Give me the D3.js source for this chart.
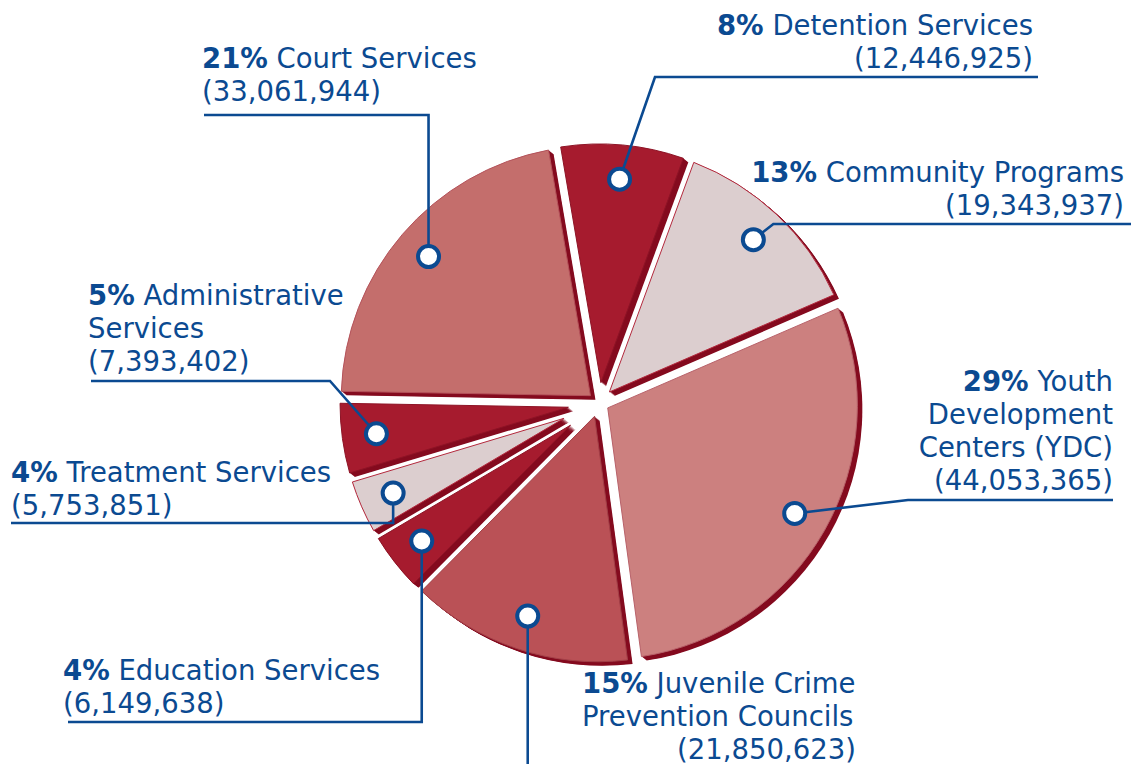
<!DOCTYPE html>
<html>
<head>
<meta charset="utf-8">
<script src="https://cdn.jsdelivr.net/npm/d3@7"></script>
<style>
html,body{margin:0;padding:0;background:#fff;}
svg{display:block;}
</style>
</head>
<body>
<svg id="chart" width="1131" height="764"></svg>
<script>
// ---------------- data ----------------
const categories = [
  "Court Services",
  "Detention Services",
  "Community Programs",
  "Youth Development Centers (YDC)",
  "Juvenile Crime Prevention Councils",
  "Education Services",
  "Treatment Services",
  "Administrative Services"
];
const amounts = [33061944, 12446925, 19343937, 44053365, 21850623, 6149638, 5753851, 7393402];
const percentLabels = ["21%", "8%", "13%", "29%", "15%", "4%", "4%", "5%"];
const nameLines = [
  ["Court Services"],
  ["Detention Services"],
  ["Community Programs"],
  ["Youth", "Development", "Centers (YDC)"],
  ["Juvenile Crime", "Prevention Councils"],
  ["Education Services"],
  ["Treatment Services"],
  ["Administrative", "Services"]
];

// ---------------- style / layout ----------------
const sliceColors = ["#c46e6c", "#a61b2e", "#dccecf", "#cc807f", "#ba5156", "#a61b2e", "#dccecf", "#a61b2e"];
const edgeColors  = ["#b4525a", "#8e1426", "#b3293d", "#b8626a", "#a23f47", "#8e1426", "#b3293d", "#8e1426"];
const depthColor = "#840a1e";
const ink = "#0b4a91";

const W = 1131, H = 764;
const cx = 599, cy = 403, R = 254;
const explode = 5, halfGap = 4;
const depthX = 5, depthY = 4, depthSteps = 8;
const startDeg = -89;
const dotFrac = 0.865;
const lineH = 33;

const svg = d3.select("#chart");

const pie = d3.pie().sort(null).value(d => d)
  .startAngle(startDeg * Math.PI / 180)
  .endAngle((startDeg + 360) * Math.PI / 180);
const arcs = pie(amounts);

const padAngle = 0.02;
const padRadius = halfGap / Math.sin(padAngle / 2);
const arcGen = d3.arc()
  .innerRadius(d => 0.999 * halfGap / Math.sin((d.endAngle - d.startAngle) / 2))
  .outerRadius(R)
  .padAngle(padAngle)
  .padRadius(padRadius);

const mid = d => (d.startAngle + d.endAngle) / 2;
const offset = d => [explode * Math.sin(mid(d)), -explode * Math.cos(mid(d))];
const dotPos = d => {
  const r = explode + dotFrac * R, a = mid(d);
  return [cx + r * Math.sin(a), cy - r * Math.cos(a)];
};

// ---- 3D depth (drawn first, under all faces)
const depthG = svg.append("g");
arcs.forEach(d => {
  const o = offset(d);
  for (let t = 1; t <= depthSteps; t++) {
    depthG.append("path")
      .attr("d", arcGen(d))
      .attr("transform", `translate(${cx + o[0] + depthX * t / depthSteps},${cy + o[1] + depthY * t / depthSteps})`)
      .attr("fill", depthColor);
  }
});

// ---- faces
svg.append("g").selectAll("path").data(arcs).join("path")
  .attr("d", arcGen)
  .attr("transform", d => { const o = offset(d); return `translate(${cx + o[0]},${cy + o[1]})`; })
  .attr("fill", (d, i) => sliceColors[i])
  .attr("stroke", (d, i) => edgeColors[i])
  .attr("stroke-width", 1);

// ---- label layout (positions of text blocks and leader routing)
const labelLayout = [
  {x: 202,  y: 68,  anchor: "start", route: p => [[204, 115], [p[0], 115], p]},
  {x: 1033, y: 35,  anchor: "end",   route: p => [[1038, 77], [655, 77], p]},
  {x: 1124, y: 182, anchor: "end",   route: p => [[W, 224], [p[0] + 20, 224], p]},
  {x: 1113, y: 391, anchor: "end",   route: p => [[1113, 500], [908, 500], p]},
  {x: 582,  y: 693, anchor: "start", amountX: 856, amountAnchor: "end", route: p => [[p[0], H], p]},
  {x: 63,   y: 680, anchor: "start", route: p => [[68, 722], [p[0], 722], p]},
  {x: 11,   y: 482, anchor: "start", route: p => [[11, 523], [p[0], 523], p]},
  {x: 88,   y: 305, anchor: "start", route: p => [[91, 381], [330, 381], p]}
];

const fmt = d3.format(",");
const line = d3.line();

// ---- leaders
const leaderG = svg.append("g");
arcs.forEach((d, i) => {
  const p = dotPos(d);
  leaderG.append("path")
    .attr("d", line(labelLayout[i].route(p)))
    .attr("fill", "none")
    .attr("stroke", ink)
    .attr("stroke-width", 2.6);
});

// ---- dots
svg.append("g").selectAll("circle").data(arcs).join("circle")
  .attr("cx", d => dotPos(d)[0])
  .attr("cy", d => dotPos(d)[1])
  .attr("r", 10.5)
  .attr("fill", "#fff")
  .attr("stroke", ink)
  .attr("stroke-width", 4);

// ---- labels
const textG = svg.append("g")
  .attr("font-family", "'DejaVu Sans', Verdana, sans-serif")
  .attr("font-size", 27.5)
  .attr("fill", ink);

categories.forEach((cat, i) => {
  const L = labelLayout[i];
  const lines = nameLines[i];
  const t = textG.append("text").attr("text-anchor", L.anchor);
  const first = t.append("tspan").attr("x", L.x).attr("y", L.y);
  first.append("tspan").attr("font-weight", "bold").text(percentLabels[i]);
  first.append("tspan").text(" " + lines[0]);
  for (let k = 1; k < lines.length; k++) {
    textG.append("text").attr("text-anchor", L.anchor)
      .attr("x", L.x).attr("y", L.y + k * lineH).text(lines[k]);
  }
  textG.append("text")
    .attr("text-anchor", L.amountAnchor || L.anchor)
    .attr("x", L.amountX || L.x)
    .attr("y", L.y + lines.length * lineH)
    .text("(" + fmt(amounts[i]) + ")");
});
</script>
</body>
</html>
